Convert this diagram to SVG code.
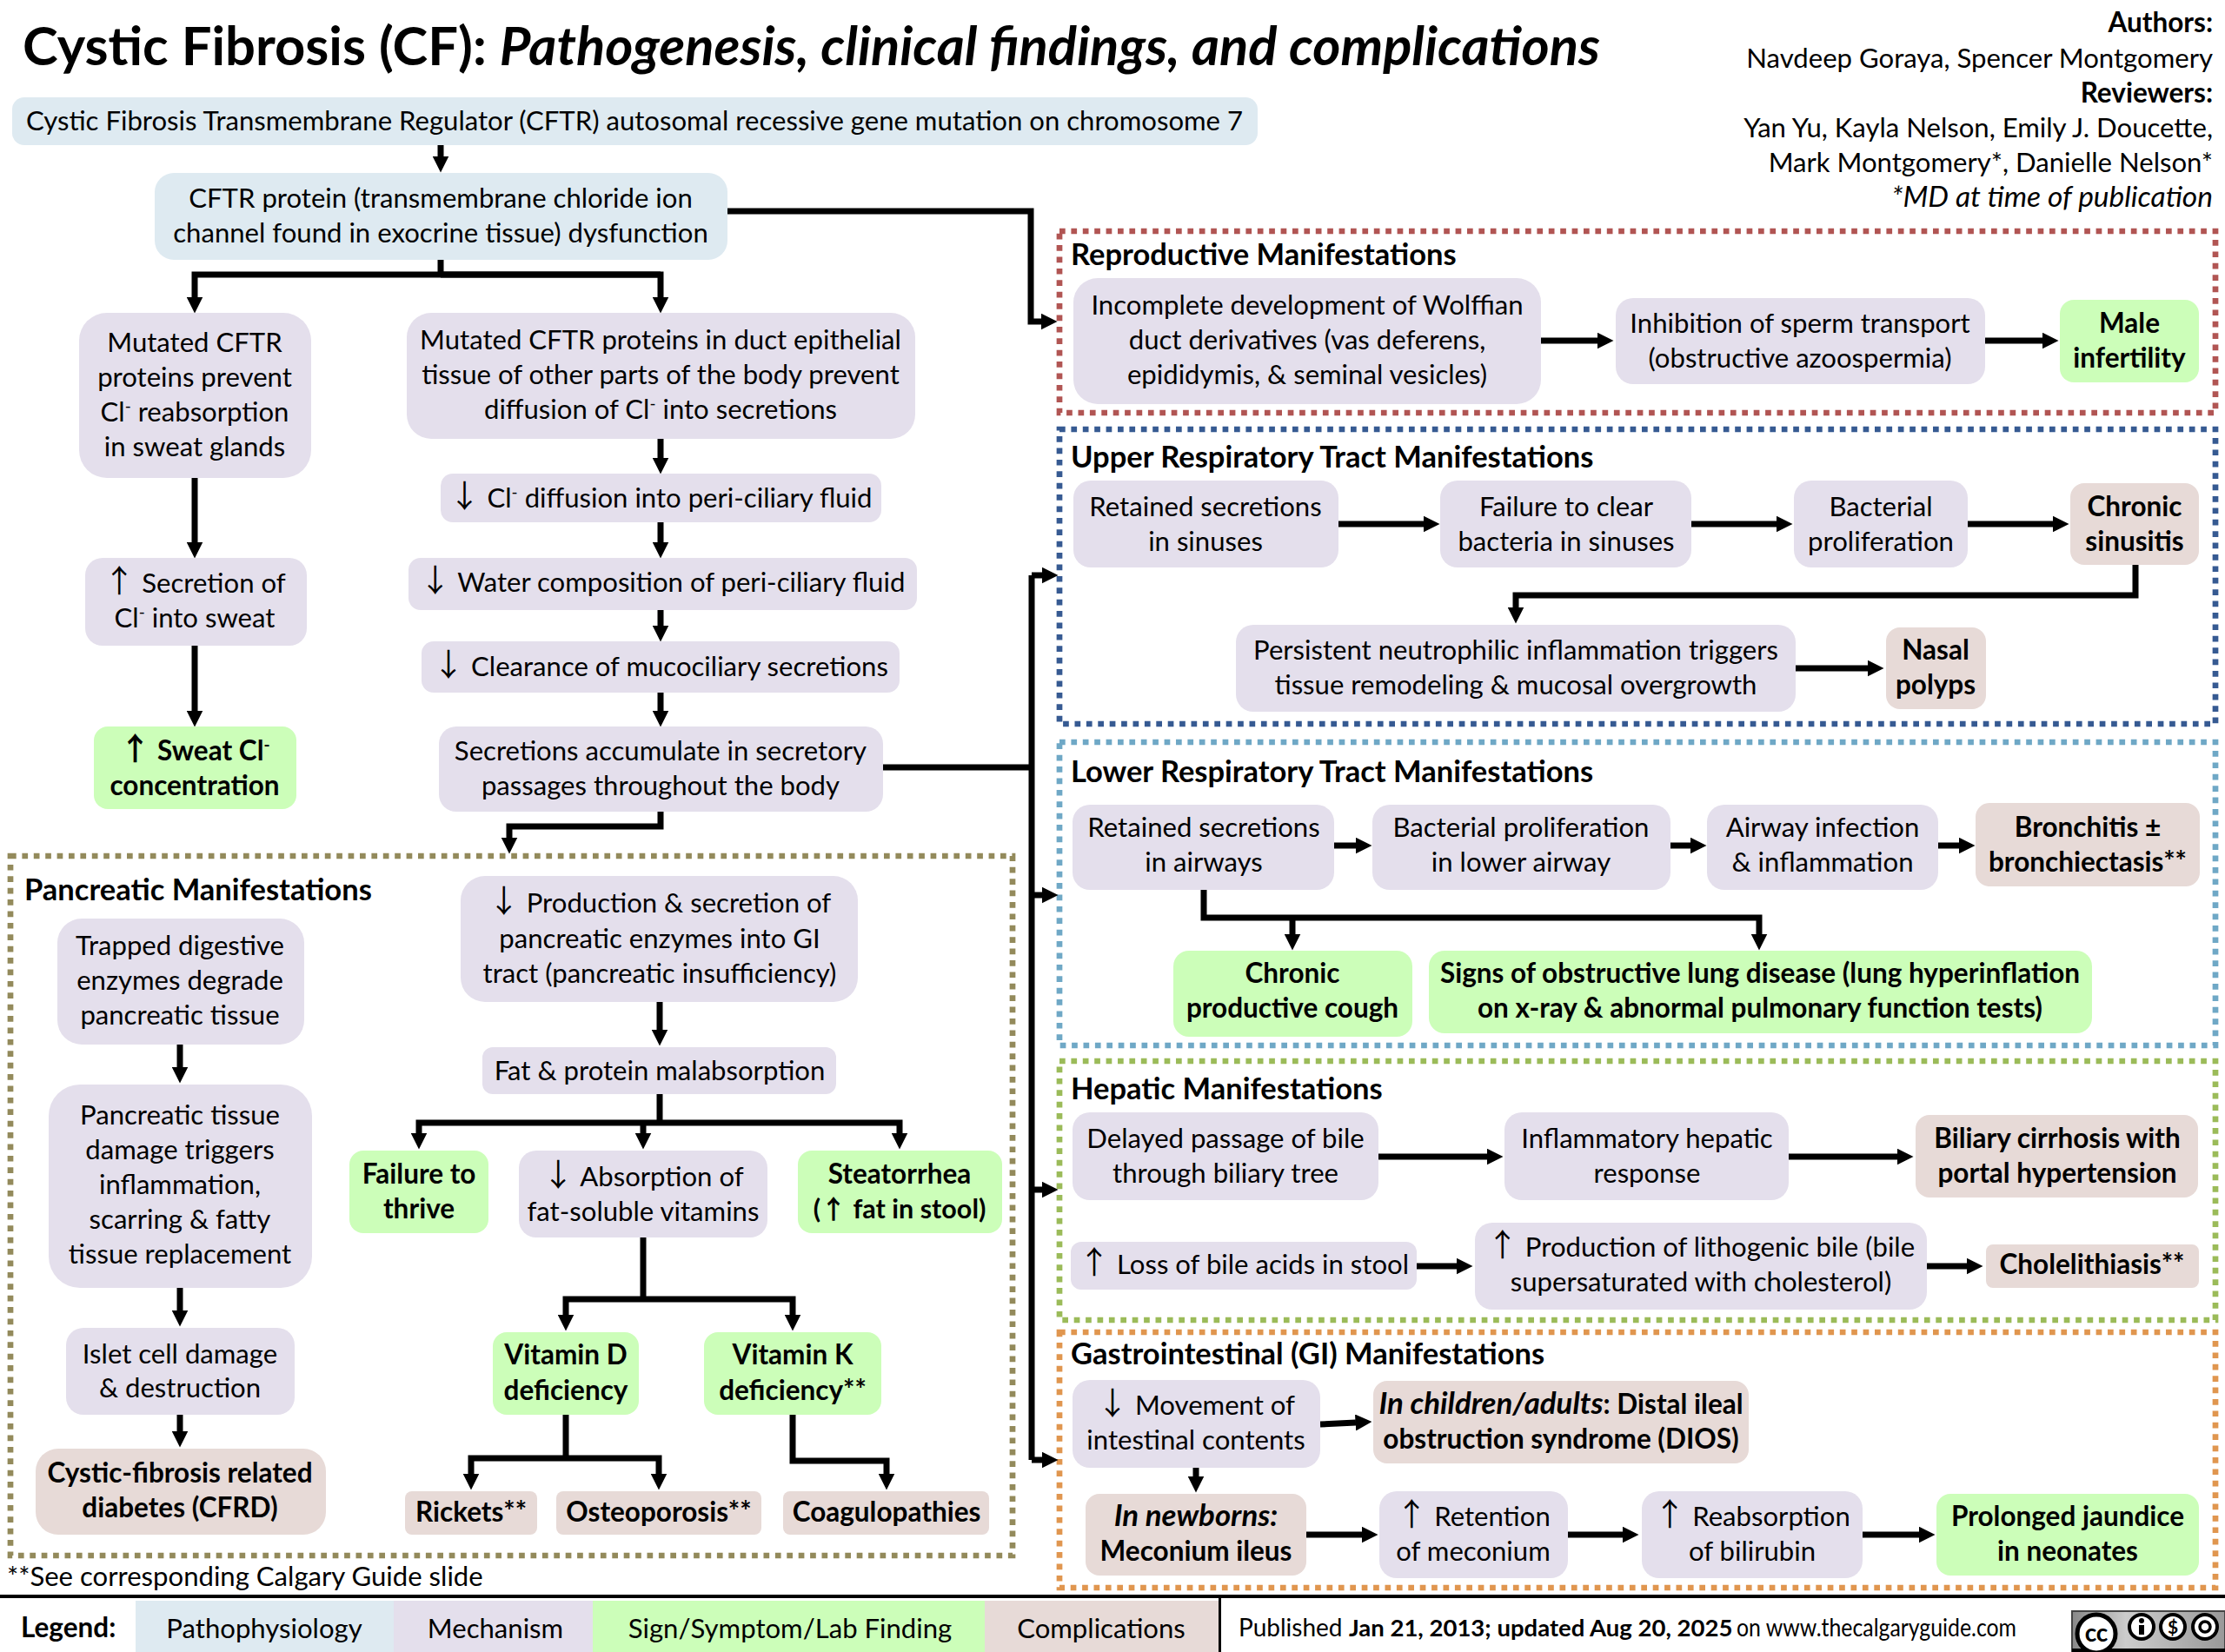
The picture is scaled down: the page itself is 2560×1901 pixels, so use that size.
<svg xmlns="http://www.w3.org/2000/svg" width="2560" height="1901" viewBox="0 0 2560 1901">
<style>
text{font-family:Lato,"Liberation Sans","DejaVu Sans",sans-serif;font-size:31.1px;fill:#000;text-anchor:middle}
.b{font-weight:700;font-size:31.5px}
.i{font-style:italic}
.is{font-size:33.5px}
.bi{font-size:34.8px}
.l{text-anchor:start}
.r{text-anchor:end}
.h{font-weight:700;text-anchor:start;font-size:34.5px}
.sup{font-size:19px;baseline-shift:11px}
.a{font-family:"Noto Sans CJK SC","DejaVu Sans",sans-serif;font-weight:400;font-size:36px}
.p{fill:#deeaf1}.m{fill:#e4dfec}.s{fill:#ccfeb9}.c{fill:#e7dad7}
.f{fill:none;stroke-width:6.7;stroke-dasharray:6.7 6.7}
#connectors path{fill:none;stroke:#000;stroke-width:7;marker-end:url(#ah)}
#connectors path.n{marker-end:none}
</style>
<defs>
<marker id="ah" markerUnits="userSpaceOnUse" markerWidth="19" markerHeight="19" viewBox="0 0 19 19" refX="0.5" refY="9.5" orient="auto"><path d="M0 0L19 9.5L0 19Z" fill="#000"/></marker>
<linearGradient id="cc" x1="0" y1="0" x2="1" y2="0"><stop offset="0" stop-color="#888"/><stop offset=".35" stop-color="#ccc"/><stop offset="1" stop-color="#999"/></linearGradient>
</defs>
<rect width="2560" height="1901" fill="#fff"/>

<g id="title"><text class="b l" x="26" y="75" style="font-size:61.5px">Cystic Fibrosis (CF): <tspan class="i">Pathogenesis, clinical findings, and complications</tspan></text></g>
<g id="authors">
<text class="b r" x="2546" y="37">Authors:</text>
<text class="r" x="2546" y="78">Navdeep Goraya, Spencer Montgomery</text>
<text class="b r" x="2546" y="118">Reviewers:</text>
<text class="r" x="2546" y="158">Yan Yu, Kayla Nelson, Emily J. Doucette,</text>
<text class="r" x="2546" y="198">Mark Montgomery*, Danielle Nelson*</text>
<text class="i is r" x="2546" y="238">*MD at time of publication</text>
</g>

<g id="frames">
<rect class="f" x="1219" y="266" width="1330" height="209" stroke="#b15553"/>
<rect class="f" x="1219" y="494" width="1330" height="339" stroke="#365a92"/>
<rect class="f" x="1219" y="854" width="1330" height="349" stroke="#6fa8c6"/>
<rect class="f" x="1219" y="1221" width="1330" height="298" stroke="#9bbb59"/>
<rect class="f" x="1219" y="1533" width="1330" height="294" stroke="#e0964f"/>
<rect class="f" x="12" y="985" width="1153" height="805" stroke="#938a5b"/>
<text class="h" x="1232" y="305">Reproductive Manifestations</text>
<text class="h" x="1232" y="538">Upper Respiratory Tract Manifestations</text>
<text class="h" x="1232" y="900">Lower Respiratory Tract Manifestations</text>
<text class="h" x="1232" y="1265">Hepatic Manifestations</text>
<text class="h" x="1232" y="1570">Gastrointestinal (GI) Manifestations</text>
<text class="h" x="28" y="1036">Pancreatic Manifestations</text>
</g>

<g id="connectors">
<path d="M507 167V180"/>
<path d="M837 243H1186V370H1198"/>
<path class="n" d="M507 299V316"/>
<path d="M760 316H224V342"/>
<path d="M507 316H760V342"/>
<path d="M224 550V624"/>
<path d="M224 743V818"/>
<path d="M760 505V527"/>
<path d="M760 601V624"/>
<path d="M760 702V720"/>
<path d="M760 797V818"/>
<path d="M760 934V951H586V964"/>
<path class="n" d="M1016 883H1187"/>
<path class="n" d="M1187 662V1680"/>
<path d="M1187 662H1199"/>
<path d="M1187 1030H1199"/>
<path d="M1187 1369H1199"/>
<path d="M1187 1680H1199"/>
<path d="M1773 392H1838"/>
<path d="M2284 392H2350"/>
<path d="M1540 603H1638"/>
<path d="M1946 603H2044"/>
<path d="M2264 603H2362"/>
<path d="M2457 650V685H1744V699"/>
<path d="M2066 769H2149"/>
<path d="M1535 973H1560"/>
<path d="M1922 973H1945"/>
<path d="M2230 973H2254"/>
<path d="M1385 1024V1056H2024V1075"/>
<path d="M1487 1056V1075"/>
<path d="M1586 1331H1711"/>
<path d="M2058 1331H2183"/>
<path d="M1630 1457H1676"/>
<path d="M2217 1457H2263"/>
<path d="M1519 1639L1560 1637"/>
<path d="M1376 1689V1699"/>
<path d="M1503 1766H1567"/>
<path d="M1804 1766H1867"/>
<path d="M2143 1766H2208"/>
<path d="M207 1202V1228"/>
<path d="M207 1482V1508"/>
<path d="M207 1628V1647"/>
<path d="M759 1153V1185"/>
<path class="n" d="M759 1259V1292"/>
<path d="M759 1292H482V1304"/>
<path d="M759 1292H1035V1304"/>
<path d="M740 1292V1304"/>
<path class="n" d="M740 1424V1495"/>
<path d="M740 1495H651V1513"/>
<path d="M740 1495H912V1513"/>
<path class="n" d="M651 1628V1678"/>
<path d="M651 1678H542V1696"/>
<path d="M651 1678H758V1696"/>
<path d="M912 1628V1681H1020V1696"/>
</g>

<g id="n-gene"><rect class="p" x="14" y="112" width="1433" height="55" rx="14"/><text x="730" y="150">Cystic Fibrosis Transmembrane Regulator (CFTR) autosomal recessive gene mutation on chromosome 7</text></g>
<g id="n-cftr"><rect class="p" x="178" y="199" width="659" height="100" rx="22"/><text x="507" y="239">CFTR protein (transmembrane chloride ion</text><text x="507" y="279">channel found in exocrine tissue) dysfunction</text></g>
<g id="n-sweat1"><rect class="m" x="91" y="360" width="267" height="190" rx="32"/><text x="224" y="405">Mutated CFTR</text><text x="224" y="445">proteins prevent</text><text x="224" y="485">Cl<tspan class="sup">-</tspan> reabsorption</text><text x="224" y="525">in sweat glands</text></g>
<g id="n-duct"><rect class="m" x="468" y="360" width="585" height="145" rx="28"/><text x="760" y="402">Mutated CFTR proteins in duct epithelial</text><text x="760" y="442">tissue of other parts of the body prevent</text><text x="760" y="482">diffusion of Cl<tspan class="sup">-</tspan> into secretions</text></g>
<g id="n-cldiff"><rect class="m" x="507" y="545" width="507" height="56" rx="14"/><text x="760" y="584"><tspan class="a">↓</tspan> Cl<tspan class="sup">-</tspan> diffusion into peri-ciliary fluid</text></g>
<g id="n-water"><rect class="m" x="470" y="642" width="585" height="60" rx="14"/><text x="762" y="681"><tspan class="a">↓</tspan> Water composition of peri-ciliary fluid</text></g>
<g id="n-clear"><rect class="m" x="485" y="738" width="550" height="59" rx="14"/><text x="760" y="778"><tspan class="a">↓</tspan> Clearance of mucociliary secretions</text></g>
<g id="n-accum"><rect class="m" x="505" y="836" width="511" height="98" rx="20"/><text x="760" y="875">Secretions accumulate in secretory</text><text x="760" y="915">passages throughout the body</text></g>
<g id="n-secr"><rect class="m" x="98" y="642" width="255" height="101" rx="20"/><text x="224" y="682"><tspan class="a">↑</tspan> Secretion of</text><text x="224" y="722">Cl<tspan class="sup">-</tspan> into sweat</text></g>
<g id="n-sweatcl"><rect class="s" x="108" y="836" width="233" height="95" rx="16"/><text class="b" x="224" y="875"><tspan class="a" style="font-weight:700">↑</tspan> Sweat Cl<tspan class="sup">-</tspan></text><text class="b" x="224" y="915">concentration</text></g>

<g id="n-trapped"><rect class="m" x="66" y="1057" width="284" height="145" rx="28"/><text x="207" y="1099">Trapped digestive</text><text x="207" y="1139">enzymes degrade</text><text x="207" y="1179">pancreatic tissue</text></g>
<g id="n-damage"><rect class="m" x="56" y="1248" width="303" height="234" rx="36"/><text x="207" y="1294">Pancreatic tissue</text><text x="207" y="1334">damage triggers</text><text x="207" y="1374">inflammation,</text><text x="207" y="1414">scarring &amp; fatty</text><text x="207" y="1454">tissue replacement</text></g>
<g id="n-islet"><rect class="m" x="76" y="1528" width="263" height="100" rx="20"/><text x="207" y="1569">Islet cell damage</text><text x="207" y="1608">&amp; destruction</text></g>
<g id="n-cfrd"><rect class="c" x="41" y="1667" width="334" height="99" rx="26"/><text class="b" x="207" y="1706">Cystic-fibrosis related</text><text class="b" x="207" y="1746">diabetes (CFRD)</text></g>
<g id="n-prod"><rect class="m" x="530" y="1008" width="457" height="145" rx="28"/><text x="759" y="1050"><tspan class="a">↓</tspan> Production &amp; secretion of</text><text x="759" y="1091">pancreatic enzymes into GI</text><text x="759" y="1131">tract (pancreatic insufficiency)</text></g>
<g id="n-fat"><rect class="m" x="555" y="1205" width="407" height="54" rx="12"/><text x="759" y="1243">Fat &amp; protein malabsorption</text></g>
<g id="n-fail"><rect class="s" x="402" y="1324" width="160" height="95" rx="16"/><text class="b" x="482" y="1362">Failure to</text><text class="b" x="482" y="1402">thrive</text></g>
<g id="n-abs"><rect class="m" x="597" y="1324" width="286" height="100" rx="20"/><text x="740" y="1365"><tspan class="a">↓</tspan> Absorption of</text><text x="740" y="1405">fat-soluble vitamins</text></g>
<g id="n-stea"><rect class="s" x="918" y="1324" width="235" height="95" rx="16"/><text class="b" x="1035" y="1362">Steatorrhea</text><text class="b" x="1035" y="1402" style="font-size:30.5px">(<tspan class="a" style="font-weight:700;font-size:30px">↑</tspan> fat in stool)</text></g>
<g id="n-vitd"><rect class="s" x="567" y="1533" width="168" height="95" rx="16"/><text class="b" x="651" y="1570">Vitamin D</text><text class="b" x="651" y="1611">deficiency</text></g>
<g id="n-vitk"><rect class="s" x="810" y="1533" width="204" height="95" rx="16"/><text class="b" x="912" y="1570">Vitamin K</text><text class="b" x="912" y="1611">deficiency**</text></g>
<g id="n-rick"><rect class="c" x="466" y="1716" width="152" height="50" rx="8"/><text class="b" x="542" y="1751">Rickets**</text></g>
<g id="n-ost"><rect class="c" x="640" y="1716" width="236" height="50" rx="8"/><text class="b" x="758" y="1751">Osteoporosis**</text></g>
<g id="n-coag"><rect class="c" x="901" y="1716" width="237" height="50" rx="8"/><text class="b" x="1020" y="1751">Coagulopathies</text></g>

<g id="n-wolff"><rect class="m" x="1235" y="320" width="538" height="145" rx="28"/><text x="1504" y="362">Incomplete development of Wolffian</text><text x="1504" y="402">duct derivatives (vas deferens,</text><text x="1504" y="442">epididymis, &amp; seminal vesicles)</text></g>
<g id="n-sperm"><rect class="m" x="1859" y="343" width="425" height="99" rx="20"/><text x="2071" y="383">Inhibition of sperm transport</text><text x="2071" y="423">(obstructive azoospermia)</text></g>
<g id="n-male"><rect class="s" x="2370" y="345" width="160" height="95" rx="16"/><text class="b" x="2450" y="383">Male</text><text class="b" x="2450" y="423">infertility</text></g>

<g id="n-sinus"><rect class="m" x="1235" y="553" width="305" height="100" rx="20"/><text x="1387" y="594">Retained secretions</text><text x="1387" y="634">in sinuses</text></g>
<g id="n-clearb"><rect class="m" x="1657" y="553" width="289" height="100" rx="20"/><text x="1802" y="594">Failure to clear</text><text x="1802" y="634">bacteria in sinuses</text></g>
<g id="n-bact"><rect class="m" x="2064" y="553" width="200" height="100" rx="20"/><text x="2164" y="594">Bacterial</text><text x="2164" y="634">proliferation</text></g>
<g id="n-chron"><rect class="c" x="2382" y="556" width="148" height="94" rx="16"/><text class="b" x="2456" y="594">Chronic</text><text class="b" x="2456" y="634">sinusitis</text></g>
<g id="n-pers"><rect class="m" x="1422" y="719" width="644" height="100" rx="20"/><text x="1744" y="759">Persistent neutrophilic inflammation triggers</text><text x="1744" y="799">tissue remodeling &amp; mucosal overgrowth</text></g>
<g id="n-nasal"><rect class="c" x="2170" y="722" width="115" height="94" rx="16"/><text class="b" x="2227" y="759">Nasal</text><text class="b" x="2227" y="799">polyps</text></g>

<g id="n-airw"><rect class="m" x="1234" y="926" width="301" height="98" rx="20"/><text x="1385" y="963">Retained secretions</text><text x="1385" y="1003">in airways</text></g>
<g id="n-bactl"><rect class="m" x="1579" y="926" width="343" height="98" rx="20"/><text x="1750" y="963">Bacterial proliferation</text><text x="1750" y="1003">in lower airway</text></g>
<g id="n-inf"><rect class="m" x="1964" y="926" width="266" height="98" rx="20"/><text x="2097" y="963">Airway infection</text><text x="2097" y="1003">&amp; inflammation</text></g>
<g id="n-bron"><rect class="c" x="2273" y="924" width="258" height="96" rx="16"/><text class="b" x="2402" y="963">Bronchitis ±</text><text class="b" x="2402" y="1003">bronchiectasis**</text></g>
<g id="n-cough"><rect class="s" x="1350" y="1094" width="275" height="99" rx="18"/><text class="b" x="1487" y="1131">Chronic</text><text class="b" x="1487" y="1171">productive cough</text></g>
<g id="n-signs"><rect class="s" x="1644" y="1094" width="763" height="95" rx="18"/><text class="b" x="2025" y="1131">Signs of obstructive lung disease (lung hyperinflation</text><text class="b" x="2025" y="1171">on x-ray &amp; abnormal pulmonary function tests)</text></g>

<g id="n-bile"><rect class="m" x="1234" y="1280" width="352" height="101" rx="20"/><text x="1410" y="1321">Delayed passage of bile</text><text x="1410" y="1361">through biliary tree</text></g>
<g id="n-hep"><rect class="m" x="1731" y="1280" width="327" height="101" rx="20"/><text x="1895" y="1321">Inflammatory hepatic</text><text x="1895" y="1361">response</text></g>
<g id="n-cirr"><rect class="c" x="2204" y="1283" width="325" height="95" rx="16"/><text class="b" x="2367" y="1321">Biliary cirrhosis with</text><text class="b" x="2367" y="1361">portal hypertension</text></g>
<g id="n-loss"><rect class="m" x="1232" y="1429" width="398" height="55" rx="12"/><text x="1431" y="1466"><tspan class="a">↑</tspan> Loss of bile acids in stool</text></g>
<g id="n-lith"><rect class="m" x="1697" y="1407" width="520" height="100" rx="20"/><text x="1957" y="1446"><tspan class="a">↑</tspan> Production of lithogenic bile (bile</text><text x="1957" y="1486">supersaturated with cholesterol)</text></g>
<g id="n-chol"><rect class="c" x="2285" y="1432" width="245" height="50" rx="8"/><text class="b" x="2407" y="1466">Cholelithiasis**</text></g>

<g id="n-move"><rect class="m" x="1234" y="1588" width="285" height="101" rx="20"/><text x="1376" y="1628"><tspan class="a">↓</tspan> Movement of</text><text x="1376" y="1668">intestinal contents</text></g>
<g id="n-dios"><rect class="c" x="1580" y="1589" width="432" height="95" rx="16"/><text class="b" x="1796" y="1627"><tspan class="i bi">In children/adults</tspan>: Distal ileal</text><text class="b" x="1796" y="1667">obstruction syndrome (DIOS)</text></g>
<g id="n-mec"><rect class="c" x="1249" y="1719" width="254" height="94" rx="16"/><text class="b i bi" x="1376" y="1756">In newborns:</text><text class="b" x="1376" y="1796">Meconium ileus</text></g>
<g id="n-ret"><rect class="m" x="1587" y="1716" width="217" height="100" rx="20"/><text x="1695" y="1756"><tspan class="a">↑</tspan> Retention</text><text x="1695" y="1796">of meconium</text></g>
<g id="n-reab"><rect class="m" x="1889" y="1716" width="254" height="100" rx="20"/><text x="2016" y="1756"><tspan class="a">↑</tspan> Reabsorption</text><text x="2016" y="1796">of bilirubin</text></g>
<g id="n-jaun"><rect class="s" x="2228" y="1719" width="302" height="94" rx="16"/><text class="b" x="2379" y="1756">Prolonged jaundice</text><text class="b" x="2379" y="1796">in neonates</text></g>

<text class="l" x="8" y="1825">**See corresponding Calgary Guide slide</text>

<g id="legend">
<rect x="0" y="1835" width="2560" height="4" fill="#000"/>
<text class="b l" x="24" y="1884">Legend:</text>
<rect class="p" x="156" y="1842" width="297" height="59"/><text x="304" y="1885">Pathophysiology</text>
<rect class="m" x="453" y="1842" width="229" height="59"/><text x="570" y="1885">Mechanism</text>
<rect class="s" x="682" y="1842" width="451" height="59"/><text x="909" y="1885">Sign/Symptom/Lab Finding</text>
<rect class="c" x="1133" y="1842" width="269" height="59"/><text x="1267" y="1885">Complications</text>
<rect x="1402" y="1837" width="3" height="64" fill="#000"/>
<text class="l" x="1425" y="1883" style="font-size:28px">Published</text>
<text class="b l" x="1552" y="1883" style="font-size:27.5px">Jan 21, 2013; updated Aug 20, 2025</text>
<text class="l" x="1998" y="1883" style="font-size:28px" textLength="322" lengthAdjust="spacingAndGlyphs">on www.thecalgaryguide.com</text>
</g>
<g id="cc-badge">
<rect x="2384" y="1854" width="176" height="47" fill="url(#cc)" stroke="#444" stroke-width="2"/>
<rect x="2384" y="1897" width="176" height="4" fill="#000"/>
<circle cx="2412" cy="1880" r="22" fill="#fff" stroke="#000" stroke-width="5"/>
<text class="b" x="2412" y="1889" style="font-size:28px">cc</text>
<circle cx="2464" cy="1872" r="14" fill="#fff" stroke="#000" stroke-width="4"/>
<circle cx="2464" cy="1865" r="3" fill="#000"/><rect x="2461" y="1870" width="6" height="11" fill="#000"/>
<circle cx="2500" cy="1872" r="14" fill="#fff" stroke="#000" stroke-width="4"/>
<text class="b" x="2500" y="1880" style="font-size:21px">$</text>
<circle cx="2537" cy="1872" r="14" fill="#fff" stroke="#000" stroke-width="4"/>
<circle cx="2537" cy="1872" r="6" fill="none" stroke="#000" stroke-width="3.5"/>
</g>
</svg>
